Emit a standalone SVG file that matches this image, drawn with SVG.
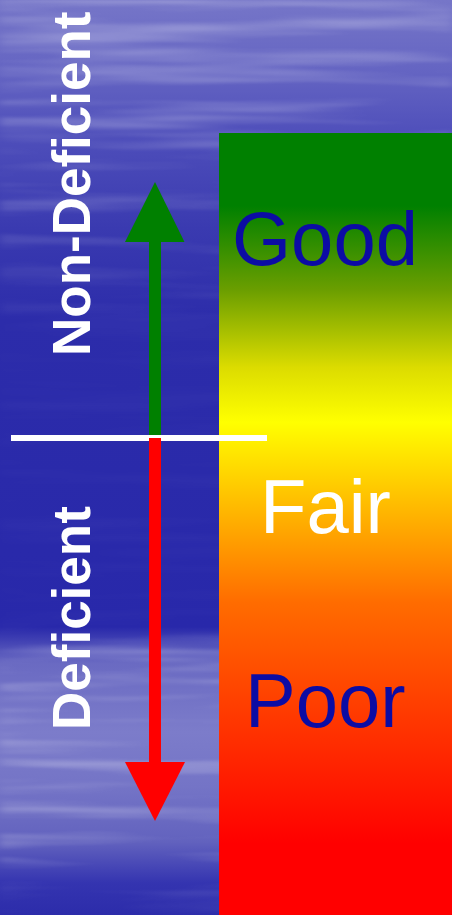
<svg xmlns="http://www.w3.org/2000/svg" width="452" height="915" viewBox="0 0 452 915">
<style>
.lbl{font-family:"Liberation Sans",Arial,sans-serif;font-size:76px}
.side{font-family:"Liberation Sans",Arial,sans-serif;font-size:53px;font-weight:bold;fill:#ffffff}
</style>
<defs>
<linearGradient id="bg" x1="0" y1="0" x2="0" y2="915" gradientUnits="userSpaceOnUse">
<stop offset="0" stop-color="#7676c8"/>
<stop offset="0.08" stop-color="#6464c2"/>
<stop offset="0.15" stop-color="#4e4eba"/>
<stop offset="0.25" stop-color="#3a3ab0"/>
<stop offset="0.35" stop-color="#2c2caa"/>
<stop offset="0.685" stop-color="#2828aa"/>
<stop offset="0.725" stop-color="#6a6ac2"/>
<stop offset="0.80" stop-color="#7c7cca"/>
<stop offset="0.86" stop-color="#7474c6"/>
<stop offset="0.92" stop-color="#6262be"/>
<stop offset="0.965" stop-color="#3434b0"/>
<stop offset="1" stop-color="#2c2caa"/>
</linearGradient>
<linearGradient id="streakMaskG" x1="0" y1="0" x2="0" y2="915" gradientUnits="userSpaceOnUse">
<stop offset="0" stop-color="#fff" stop-opacity="0.9"/>
<stop offset="0.25" stop-color="#fff" stop-opacity="0.5"/>
<stop offset="0.36" stop-color="#fff" stop-opacity="0.08"/>
<stop offset="0.68" stop-color="#fff" stop-opacity="0.08"/>
<stop offset="0.72" stop-color="#fff" stop-opacity="0.9"/>
<stop offset="0.94" stop-color="#fff" stop-opacity="0.8"/>
<stop offset="1" stop-color="#fff" stop-opacity="0.2"/>
</linearGradient>
<mask id="streakMask"><rect width="452" height="915" fill="url(#streakMaskG)"/></mask>
<filter id="streaks" x="0" y="0" width="100%" height="100%">
<feTurbulence type="fractalNoise" baseFrequency="0.003 0.06" numOctaves="3" seed="7"/>
<feColorMatrix type="matrix" values="0 0 0 0 1  0 0 0 0 1  0 0 0 0 1  1.5 0 0 0 -0.68"/>
<feGaussianBlur stdDeviation="5 1.2"/>
</filter>
<linearGradient id="scale" x1="0" y1="133" x2="0" y2="915" gradientUnits="userSpaceOnUse">
<stop offset="0" stop-color="#008000"/>
<stop offset="0.0933" stop-color="#008000"/>
<stop offset="0.20" stop-color="#6a9e00"/>
<stop offset="0.30" stop-color="#dcdc00"/>
<stop offset="0.37" stop-color="#ffff00"/>
<stop offset="0.60" stop-color="#ff6c00"/>
<stop offset="0.908" stop-color="#ff0000"/>
<stop offset="1" stop-color="#ff0000"/>
</linearGradient>
</defs>
<g id="background">
<rect width="452" height="915" fill="url(#bg)"/>
<rect width="452" height="915" filter="url(#streaks)" mask="url(#streakMask)" opacity="0.6"/>
</g>
<g id="scale-bar">
<rect x="219" y="133" width="233" height="782" fill="url(#scale)"/>
</g>
<g id="connectors">
<g id="arrow-up">
<rect x="149" y="238" width="12" height="198" fill="#008000"/>
<polygon points="155,182 184.5,242 125,242" fill="#008000"/>
</g>
<rect id="divider" x="11" y="435" width="256" height="6" fill="#ffffff"/>
<g id="arrow-down">
<rect x="149" y="438" width="12" height="328" fill="#ff0000"/>
<polygon points="125,762 185,762 155,821" fill="#ff0000"/>
</g>
</g>
<g id="label-good"><text class="lbl" x="232" y="265" fill="#0c0ca4">Good</text></g>
<g id="label-fair"><text class="lbl" x="260" y="533" fill="#ffffff">Fair</text></g>
<g id="label-poor"><text class="lbl" x="245" y="727" fill="#0c0ca4">Poor</text></g>
<g id="label-non-deficient"><text class="side" transform="translate(90,356) rotate(-90)">Non-Deficient</text></g>
<g id="label-deficient"><text class="side" transform="translate(90,730) rotate(-90)">Deficient</text></g>
</svg>
